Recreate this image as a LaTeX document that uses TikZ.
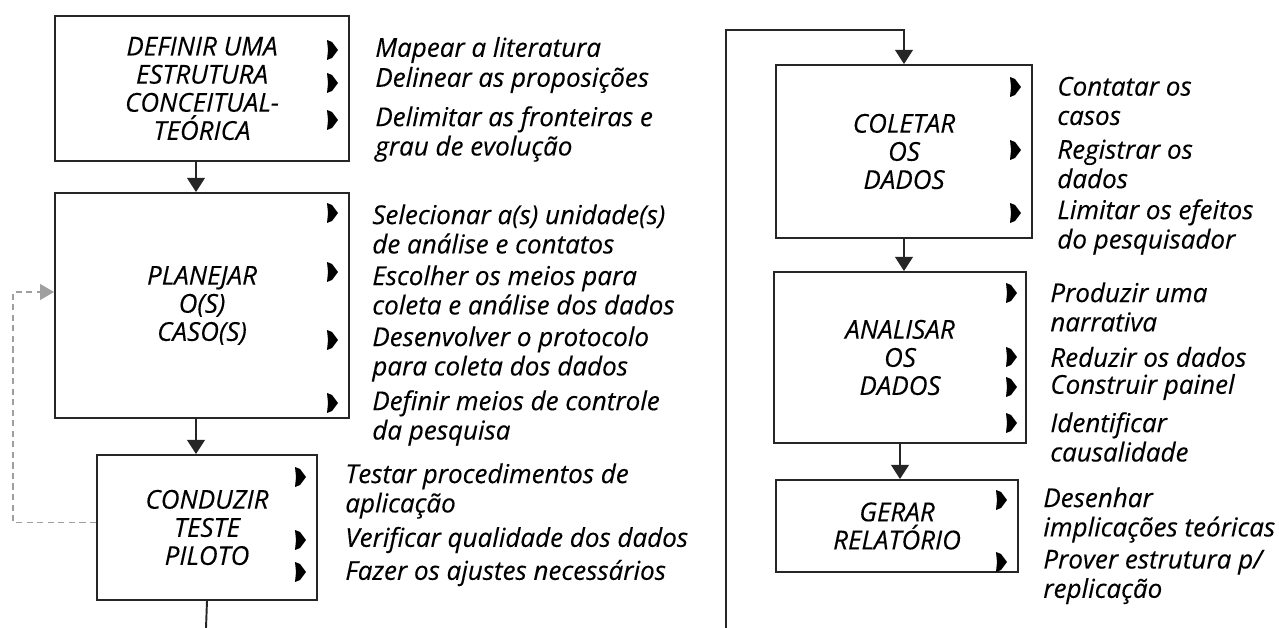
\documentclass[tikz,border=0pt]{standalone}
\usepackage{fontspec}
\setmainfont{Open Sans}[ItalicFeatures={FakeBold=0.25}]
\usetikzlibrary{arrows.meta}

\tikzset{
  etapa/.style={draw=black!85, line width=1.1pt, align=center, inner sep=0pt,
    font=\itshape\fontsize{14.8}{16}\selectfont},
  item/.style={anchor=west, align=left, inner sep=0pt,
    font=\itshape\fontsize{14.8}{16.7}\selectfont},
  fluxo/.style={-{Triangle[length=8pt,width=10pt]}, line width=1.1pt, black!85},
  volta/.style={-{Triangle[length=8pt,width=9pt]}, line width=1.1pt, gray!75,
    dash pattern=on 3.5pt off 2.5pt},
  ponta/.pic={\fill[black] (-5,-10) -- (0,-8) -- (6,0) -- (0,8) -- (-5,10) -- (-4,0) -- cycle;}
}

\begin{document}
\begin{tikzpicture}[x=0.02cm, y=-0.02cm]
        \useasboundingbox (0,0) rectangle (1279,628);

        \node[etapa, minimum width=5.88cm, minimum height=2.9cm] (def) at (202, 88.5) {DEFINIR UMA\\ESTRUTURA\\CONCEITUAL-\\TEÓRICA};
        \node[etapa, minimum width=5.88cm, minimum height=4.5cm] (plan) at (202, 305.5) {PLANEJAR\\O(S)\\CASO(S)};
        \node[etapa, minimum width=4.4cm, minimum height=2.9cm] (cond) at (207, 527.5) {CONDUZIR\\TESTE\\PILOTO};
        \node[etapa, minimum width=5.12cm, minimum height=3.46cm] (col) at (904, 151.5) {COLETAR\\OS\\DADOS};
        \node[etapa, minimum width=5.04cm, minimum height=3.42cm] (ana) at (900, 357.5) {ANALISAR\\OS\\DADOS};
        \node[etapa, minimum width=4.84cm, minimum height=1.84cm] (ger) at (897, 526) {GERAR\\RELATÓRIO};

        \node[item] (def1) at (375, 50) {Mapear a literatura};
        \node[item] (def2) at (375, 80) {Delinear as proposições};
        \node[item] (def3) at (375, 134) {Delimitar as fronteiras e\\grau de evolução};
        \pic at (332, 50) {ponta};
        \pic at (332, 83) {ponta};
        \pic at (332, 120) {ponta};

        \node[item] (plan1) at (372, 229) {Selecionar a(s) unidade(s)\\de análise e contatos};
        \node[item] (plan2) at (372, 290) {Escolher os meios para\\coleta e análise dos dados};
        \node[item] (plan3) at (372, 354) {Desenvolver o protocolo\\para coleta dos dados};
        \node[item] (plan4) at (372, 418) {Definir meios de controle\\da pesquisa};
        \pic at (332, 213) {ponta};
        \pic at (332, 272) {ponta};
        \pic at (332, 340) {ponta};
        \pic at (332, 403) {ponta};

        \node[item] (cond1) at (345, 491) {Testar procedimentos de\\aplicação};
        \node[item] (cond2) at (345, 540) {Verificar qualidade dos dados};
        \node[item] (cond3) at (345, 573) {Fazer os ajustes necessários};
        \pic at (300, 477) {ponta};
        \pic at (300, 540) {ponta};
        \pic at (300, 572) {ponta};

        \node[item] (col1) at (1057, 101) {Contatar os\\casos};
        \node[item] (col2) at (1057, 164) {Registrar os\\dados};
        \node[item] (col3) at (1057, 227) {Limitar os efeitos\\do pesquisador};
        \pic at (1015, 87) {ponta};
        \pic at (1015, 150) {ponta};
        \pic at (1015, 213) {ponta};

        \node[item] (ana1) at (1050, 307) {Produzir uma\\narrativa};
        \node[item] (ana2) at (1050, 357) {Reduzir os dados};
        \node[item] (ana3) at (1050, 387) {Construir painel};
        \node[item] (ana4) at (1050, 437) {Identificar\\causalidade};
        \pic at (1011, 293) {ponta};
        \pic at (1011, 357) {ponta};
        \pic at (1011, 387) {ponta};
        \pic at (1011, 423) {ponta};

        \node[item] (ger1) at (1043, 515) {Desenhar\\implicações teóricas};
        \node[item] (ger2) at (1043, 577) {Prover estrutura p/\\replicação};
        \pic at (1001, 500) {ponta};
        \pic at (1001, 562) {ponta};

        \coordinate (fim) at (206, 628);
        \coordinate (base) at (726, 628);
        \coordinate (topo) at (726, 30);
        \coordinate (canto) at (13, 292);

        \draw[fluxo] ([xshift=-0.12cm]def.south) -- ([xshift=-0.12cm]def.south |- plan.north);
        \draw[fluxo] ([xshift=-0.12cm]plan.south) -- ([xshift=-0.12cm]plan.south |- cond.north);
        \draw[line width=1.1pt, black!85] (cond.south) -- (fim);
        \draw[volta] ([yshift=0.1cm]cond.west) -| (canto) -- (canto -| plan.west);
        \draw[fluxo] (base) -- (topo) -| (col.north);
        \draw[fluxo] (col.south) -- (col.south |- ana.north);
        \draw[fluxo] (ana.south) -- (ana.south |- ger.north);

    \end{tikzpicture}
\end{document}
